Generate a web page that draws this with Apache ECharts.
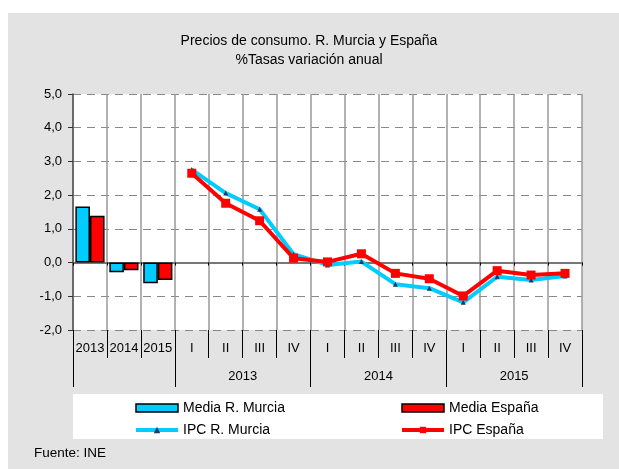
<!DOCTYPE html>
<html lang="es">
<head>
    <meta charset="UTF-8">
    <title>Precios de consumo. R. Murcia y España</title>
    <script src="https://cdn.jsdelivr.net/npm/echarts@6/dist/echarts.min.js"></script>
    <style>
        html, body { margin: 0; padding: 0; background: #fff; }
        #chart { width: 619px; height: 469px; }
    </style>
</head>
<body>
    <div id="chart"></div>
    <script>
        // categorías del eje: medias anuales + trimestres
        const categories = ['2013', '2014', '2015',
            'I', 'II', 'III', 'IV', 'I', 'II', 'III', 'IV', 'I', 'II', 'III', 'IV'];
        const years = ['2013', '2014', '2015'];

        // medias anuales (barras)
        const mediaMurcia = [1.66, -0.29, -0.61];
        const mediaEspana = [1.39, -0.23, -0.52];

        // IPC trimestral (líneas), 2013 I .. 2015 IV
        const ipcMurcia = [2.76, 2.06, 1.58, 0.25, -0.07, 0.03, -0.64, -0.76, -1.18, -0.42, -0.52, -0.40];
        const ipcEspana = [2.65, 1.76, 1.24, 0.13, 0.02, 0.26, -0.32, -0.48, -0.99, -0.24, -0.37, -0.32];

        const pad = n => new Array(n).fill(null);
        const barData = arr => arr.concat(pad(categories.length - arr.length));
        const lineData = arr => pad(categories.length - arr.length).concat(arr);

        const font = 'Liberation Sans, Arial, sans-serif';
        const chart = echarts.init(document.getElementById('chart'));

        const legendBase = {
            orient: 'vertical', top: 396, itemGap: 8,
            itemWidth: 42, itemHeight: 8,
            textStyle: { fontSize: 14, color: '#000', fontFamily: font }
        };

        const option = {
            backgroundColor: '#fff',
            animation: false,
            textStyle: { fontFamily: font },
            graphic: [
                { type: 'rect', z: -10, shape: { x: 8, y: 13, width: 611, height: 456 }, style: { fill: '#e3e3e3' } },
                { type: 'rect', z: -5, shape: { x: 73, y: 394, width: 530, height: 45 }, style: { fill: '#fff' } },
                { type: 'text', left: 34, top: 446, style: { text: 'Fuente: INE', font: '13.5px ' + font, fill: '#000' } }
            ],
            title: {
                text: 'Precios de consumo. R. Murcia y España\n%Tasas variación anual',
                left: 304, top: 27, textAlign: 'center',
                textStyle: { fontSize: 14, fontWeight: 'normal', color: '#000', lineHeight: 19, fontFamily: font }
            },
            legend: [
                Object.assign({}, legendBase, {
                    left: 129,
                    data: [
                        { name: 'Media R. Murcia', icon: 'rect', itemStyle: { borderWidth: 1.5 } },
                        { name: 'IPC R. Murcia', lineStyle: { width: 4 } }
                    ]
                }),
                Object.assign({}, legendBase, {
                    left: 395,
                    data: [
                        { name: 'Media España', icon: 'rect', itemStyle: { borderWidth: 1.5 } },
                        { name: 'IPC España', lineStyle: { width: 4 } }
                    ]
                })
            ],
            grid: { left: 73, right: 37, top: 94, bottom: 139, backgroundColor: '#fff', show: true, borderWidth: 0 },
            xAxis: [
                {
                    type: 'category', data: categories, position: 'bottom',
                    axisLine: { show: false, onZero: false },
                    axisTick: { show: true, interval: 0, length: 28, lineStyle: { color: '#000' } },
                    axisLabel: { interval: 0, margin: 12, fontSize: 13, color: '#000', fontFamily: font },
                    splitLine: { show: true, interval: 0, lineStyle: { color: '#999', width: 1.5 } }
                },
                {
                    // línea del cero
                    type: 'category', data: categories, position: 'bottom',
                    axisLine: { show: true, onZero: true, lineStyle: { color: '#777', width: 2 } },
                    axisTick: { show: true, interval: 0, length: 3, lineStyle: { color: '#000' } },
                    axisLabel: { show: false }, splitLine: { show: false }
                },
                {
                    // segundo nivel: años
                    type: 'value', min: 0, max: 15, position: 'bottom',
                    axisLine: { show: false, onZero: false },
                    axisTick: { show: true, length: 57, customValues: [0, 3, 7, 11, 15], lineStyle: { color: '#000' } },
                    axisLabel: {
                        customValues: [5, 9, 13], margin: 40, fontSize: 13, color: '#000', fontFamily: font,
                        formatter: v => years[(v - 5) / 4]
                    },
                    splitLine: { show: false }
                }
            ],
            yAxis: {
                type: 'value', min: -2, max: 5, interval: 1,
                axisLine: { show: true, lineStyle: { color: '#555', width: 1.5 } },
                axisTick: { show: true, length: 5, lineStyle: { color: '#333' } },
                axisLabel: {
                    margin: 11, fontSize: 13, color: '#000', fontFamily: font,
                    formatter: v => v.toFixed(1).replace('.', ',')
                },
                splitLine: { show: true, lineStyle: { color: '#888', type: [8, 6], width: 1 } }
            },
            series: [
                {
                    name: 'Media R. Murcia', type: 'bar', data: barData(mediaMurcia),
                    barGap: '0%', barCategoryGap: '14%',
                    itemStyle: { color: '#00ccff', borderColor: '#000', borderWidth: 1.5 }
                },
                {
                    name: 'Media España', type: 'bar', data: barData(mediaEspana),
                    barGap: '0%', barCategoryGap: '14%',
                    itemStyle: { color: '#ff0000', borderColor: '#000', borderWidth: 1.5 }
                },
                {
                    name: 'IPC R. Murcia', type: 'line', data: lineData(ipcMurcia),
                    symbol: 'triangle', symbolSize: 5, showSymbol: true,
                    lineStyle: { color: '#00ccff', width: 4 },
                    itemStyle: { color: '#1f3864', borderWidth: 0 }, z: 3
                },
                {
                    name: 'IPC España', type: 'line', data: lineData(ipcEspana),
                    symbol: 'rect', symbolSize: 9, showSymbol: true,
                    lineStyle: { color: '#ff0000', width: 4 },
                    itemStyle: { color: '#ff0000', borderWidth: 0 }, z: 4
                }
            ]
        };
        chart.setOption(option);
    </script>
</body>
</html>
